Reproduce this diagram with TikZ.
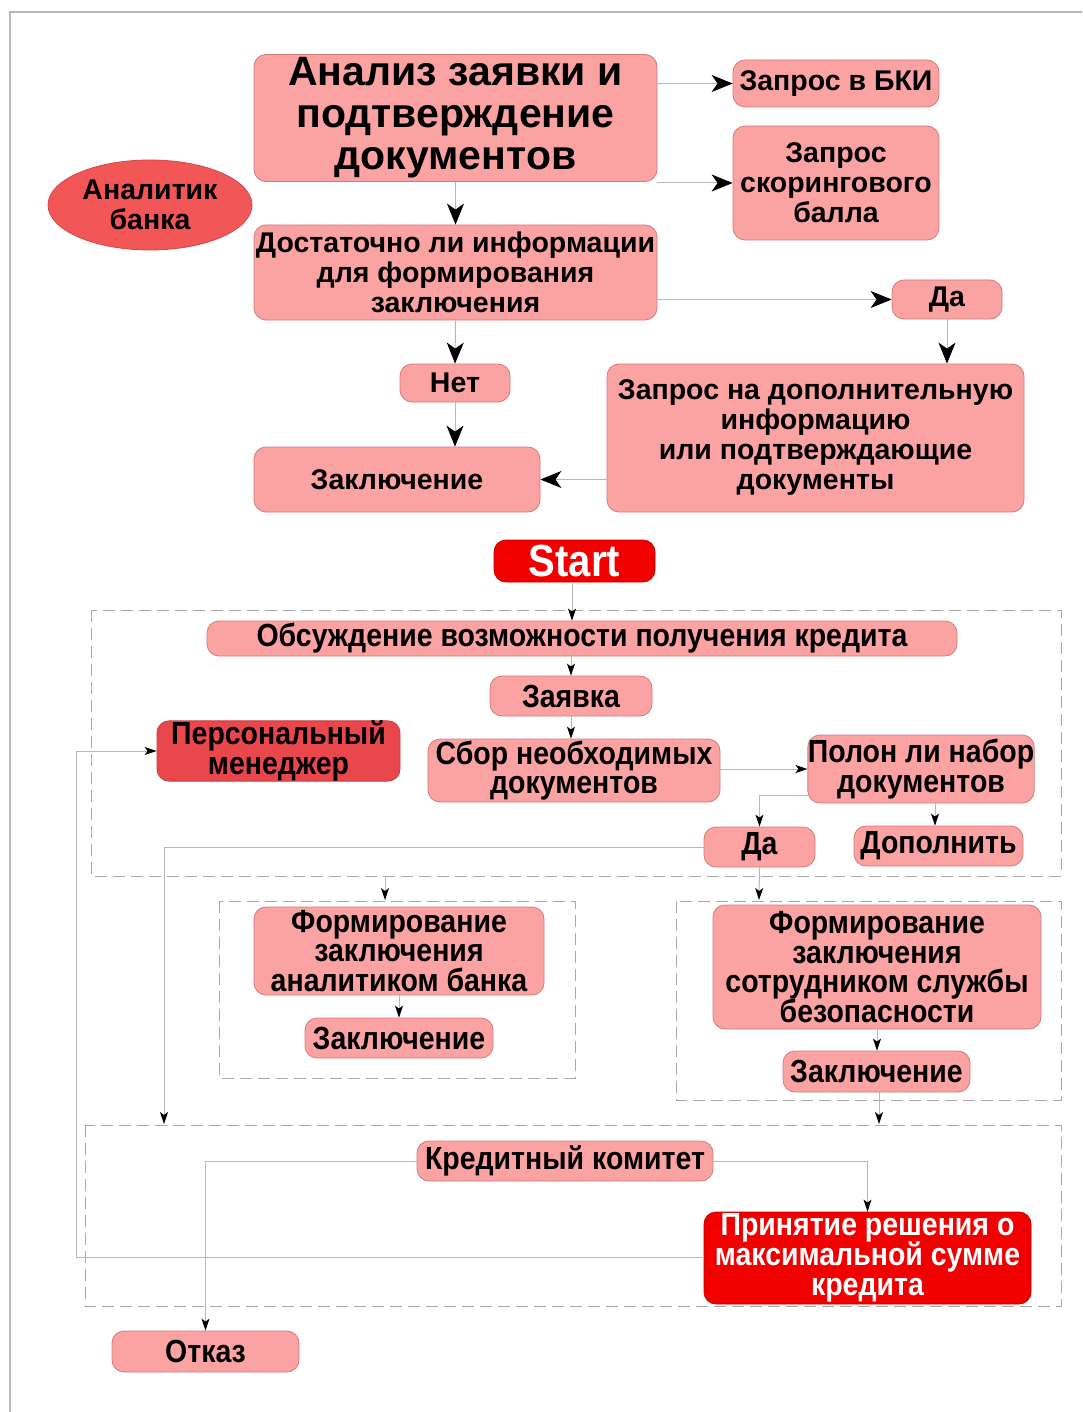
\documentclass[tikz,border=0pt]{standalone}
\usepackage{fontspec}
\setmainfont{Liberation Sans}
\newfontfamily\narrowf[FakeStretch=0.89]{Liberation Sans}
\usetikzlibrary{arrows.meta,shapes.geometric}
\newcommand\mytls{\lineskiplimit=-30pt\relax\lineskip=0pt\relax}
\definecolor{boxfill}{HTML}{FBA2A2}
\definecolor{boxline}{HTML}{D57A7A}
\definecolor{redfill}{HTML}{F20000}
\definecolor{pmfill}{HTML}{E9474B}
\definecolor{ellfill}{HTML}{F25656}
\definecolor{conn}{HTML}{B8B8B8}
\definecolor{dashc}{HTML}{A8A8A8}
\tikzset{
  x=1pt,y=-1pt,
  pbox/.style={draw=boxline,fill=boxfill,rounded corners=12pt,line width=0.8pt,align=center,inner sep=0pt},
  rbox/.style={pbox,fill=redfill,draw=redfill!80!black,text=white},
  topf/.style={font=\bfseries\fontsize{28.5}{30}\selectfont\mytls},
  botf/.style={font=\narrowf\bfseries\fontsize{32}{29.8}\selectfont\mytls},
  bigarr/.style={draw=conn,line width=1pt,-{Stealth[length=21pt,width=17pt,inset=6pt,color=black]}},
  smarr/.style={draw=conn,line width=1pt,-{Stealth[length=12pt,width=8pt,inset=3pt,color=black]}},
  dbox/.style={draw=dashc,line width=1pt,dash pattern=on 12pt off 6pt},
}
\begin{document}
\begin{tikzpicture}
\useasboundingbox (0,0) rectangle (1082,1412);
\fill[white] (0,0) rectangle (1082,1412);
% frame
\draw[color=conn,line width=2pt] (10,1412) -- (10,12) -- (1082,12);

% ---------- top section ----------
\node[pbox,font=\bfseries\fontsize{41}{42}\selectfont\mytls,minimum width=403,minimum height=127] (a1) at (455.5,118) {Анализ заявки и\\подтверждение\\документов};
\node[pbox,topf,minimum width=206,minimum height=47] (bki) at (836,83.5) {Запрос в БКИ};
\node[pbox,topf,minimum width=206,minimum height=114] (score) at (836,183) {Запрос\\скорингового\\балла};
\node[ellipse,draw=ellfill!85!black,fill=ellfill,line width=0.8pt,align=center,inner sep=0pt,minimum width=204,minimum height=90,topf] (anal) at (150,205) {Аналитик\\банка};
\node[pbox,topf,minimum width=403,minimum height=95] (a2) at (455.5,272.5) {Достаточно ли информации\\для формирования\\заключения};
\node[pbox,topf,minimum width=110,minimum height=39] (da1) at (947,299.5) {Да};
\node[pbox,topf,minimum width=110,minimum height=38] (net) at (455,383) {Нет};
\node[pbox,topf,minimum width=286,minimum height=65] (z1) at (397,479.5) {Заключение};
\node[pbox,topf,minimum width=417,minimum height=148] (zd) at (815.5,438) {Запрос на дополнительную\\информацию\\или подтверждающие\\документы};

\draw[bigarr] (a1.east |- bki.west) -- (bki.west);
\draw[bigarr] (a1.east |- score.west) -- (score.west);
\draw[bigarr] (a1.south) -- (a2.north);
\draw[bigarr] (a2.east |- da1.west) -- (da1.west);
\draw[bigarr] (a2.south) -- (net.north);
\draw[bigarr] (net.south) -- (z1.north -| net.south);
\draw[bigarr] (da1.south) -- (zd.north -| da1.south);
\draw[bigarr] (zd.west |- z1.east) -- (z1.east);

% ---------- bottom section ----------
\draw[dbox] (91,610) rectangle (1061,876);
\draw[dbox] (219,901) rectangle (575,1078);
\draw[dbox] (676,901) rectangle (1061,1100);
\draw[dbox] (85,1125) rectangle (1061,1306);

\node[rbox,font=\narrowf\bfseries\fontsize{45}{45}\selectfont,minimum width=161,minimum height=42] (start) at (574.5,561) {Start};
\node[pbox,botf,minimum width=750,minimum height=35] (obs) at (582,638.5) {Обсуждение возможности получения кредита};
\node[pbox,botf,minimum width=162,minimum height=40] (zay) at (571,696) {Заявка};
\node[pbox,botf,fill=pmfill,draw=pmfill!85!black,minimum width=243,minimum height=60] (pm) at (278.5,751) {Персональный\\менеджер};
\node[pbox,botf,minimum width=292,minimum height=63] (sbor) at (574,770.5) {Сбор необходимых\\документов};
\node[pbox,botf,minimum width=210,minimum height=68] (polon) at (921,769) {Полон ли набор\\документов};
\node[pbox,botf,minimum width=111,minimum height=40] (da2) at (759.5,847) {Да};
\node[pbox,botf,minimum width=169,minimum height=40] (dop) at (938.5,846) {Дополнить};
\node[pbox,botf,minimum width=290,minimum height=88] (form1) at (399,951) {Формирование\\заключения\\аналитиком банка};
\node[pbox,botf,minimum width=188,minimum height=40] (zk2) at (399,1038) {Заключение};
\node[pbox,botf,minimum width=328,minimum height=124] (form2) at (877,967) {Формирование\\заключения\\сотрудником службы\\безопасности};
\node[pbox,botf,minimum width=187,minimum height=41] (zk3) at (876.5,1071.5) {Заключение};
\node[pbox,botf,minimum width=296,minimum height=40] (kk) at (565,1161) {Кредитный комитет};
\node[rbox,botf,minimum width=327,minimum height=92] (prin) at (867.5,1258) {Принятие решения о\\максимальной сумме\\кредита};
\node[pbox,botf,minimum width=187,minimum height=41] (otkaz) at (205.5,1351.5) {Отказ};

\coordinate (b1a) at (385,876);
\coordinate (f1top) at (385,900);
\coordinate (f2top) at (759,900);
\coordinate (c1) at (164,1124);
\coordinate (c3) at (879,1124);
\coordinate (lp) at (76,1257);
\coordinate (pd) at (816,795);

\draw[smarr] (start.south -| 572,0) -- (obs.north -| 572,0);
\draw[smarr] (obs.south -| zay.north) -- (zay.north);
\draw[smarr] (zay.south) -- (sbor.north -| zay.south);
\draw[smarr] (sbor.east |- polon.west) -- (polon.west);
\draw[smarr] (pd) -| (da2.north);
\draw[smarr] (polon.south -| 935,0) -- (dop.north -| 935,0);
\draw[smarr] (da2.west) -| (c1);
\draw[smarr] (da2.south) -- (f2top);
\draw[smarr] (b1a) -- (f1top);
\draw[smarr] (form1.south) -- (zk2.north);
\draw[smarr] (form2.south) -- (zk3.north -| form2.south);
\draw[smarr] (zk3.south -| c3) -- (c3);
\draw[smarr] (kk.east) -| (prin.north);
\draw[smarr] (kk.west) -| (otkaz.north);
\draw[smarr] (prin.west |- lp) -- (lp) |- (pm.west);
\end{tikzpicture}
\end{document}
